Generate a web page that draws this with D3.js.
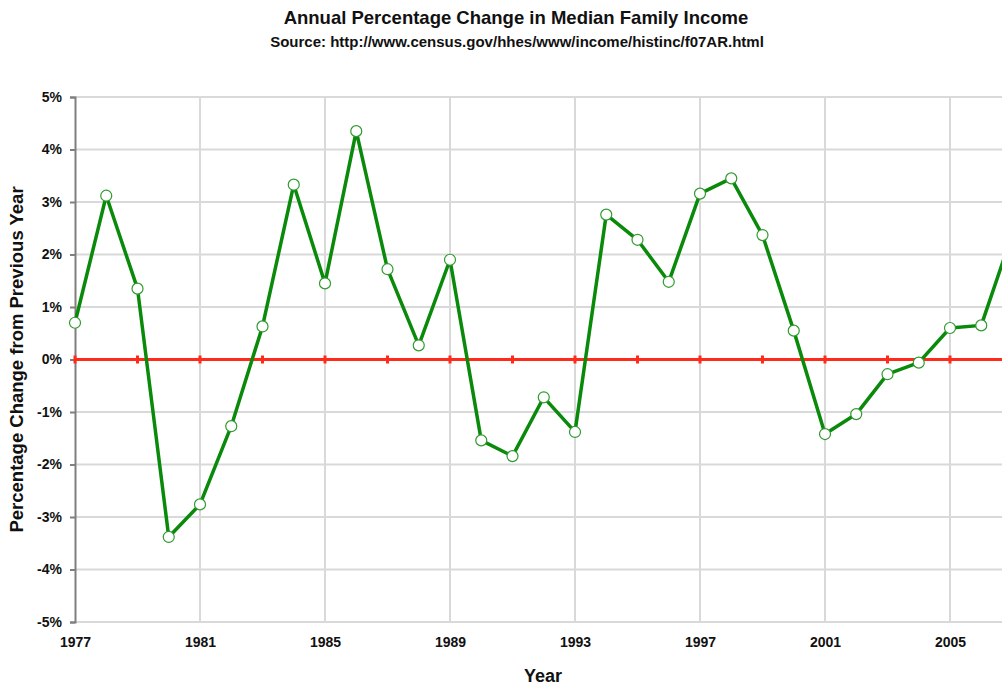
<!DOCTYPE html>
<html>
<head>
  <meta charset="utf-8">
  <title>median family income</title>
  <style>
    body { margin: 0; background: #fff; }
    svg text { font-family: "Liberation Sans", Arial, sans-serif; font-weight: bold; fill: #111; }
  </style>
</head>
<body>
  <svg width="1002" height="685" class="chart"></svg>

  <script src="https://d3js.org/d3.v7.min.js"></script>
  <script type="text/javascript">

  // values (percent change from previous year)
  var years = [1977, 1978, 1979, 1980, 1981, 1982, 1983, 1984, 1985, 1986,
               1987, 1988, 1989, 1990, 1991, 1992, 1993, 1994, 1995, 1996,
               1997, 1998, 1999, 2000, 2001, 2002, 2003, 2004, 2005, 2006, 2007];
  var change = [0.70, 3.12, 1.35, -3.38, -2.76, -1.27, 0.63, 3.33, 1.45, 4.35,
                1.72, 0.27, 1.90, -1.54, -1.84, -0.72, -1.38, 2.76, 2.28, 1.48,
                3.16, 3.45, 2.37, 0.55, -1.42, -1.04, -0.28, -0.06, 0.60, 0.65, 2.4];
  var yTicks = [-5, -4, -3, -2, -1, 0, 1, 2, 3, 4, 5];
  var xLabels = [1977, 1981, 1985, 1989, 1993, 1997, 2001, 2005];
  var zeroTicks = [1977, 1979, 1981, 1983, 1985, 1987, 1989, 1991, 1993, 1995, 1997, 1999, 2001, 2003, 2005, 2007];

  var svg = d3.select(".chart");
  var plotLeft = 75, plotTop = 97, plotBottom = 622;

  var x = d3.scaleLinear().domain([1977, 2007]).range([plotLeft, plotLeft + 30 * 31.25]);
  var y = d3.scaleLinear().domain([-5, 5]).range([plotBottom, plotTop]);

  // horizontal grid
  svg.append("g").selectAll("line")
    .data(yTicks)
    .enter().append("line")
    .attr("x1", plotLeft).attr("x2", 1002)
    .attr("y1", function(d) { return y(d); })
    .attr("y2", function(d) { return y(d); })
    .style("stroke", "#d9d9d9").style("stroke-width", 2);

  // vertical grid
  svg.append("g").selectAll("line")
    .data(xLabels.slice(1))
    .enter().append("line")
    .attr("x1", function(d) { return x(d); })
    .attr("x2", function(d) { return x(d); })
    .attr("y1", plotTop).attr("y2", plotBottom)
    .style("stroke", "#d9d9d9").style("stroke-width", 2);

  // y axis
  var yAxis = svg.append("g")
    .attr("transform", "translate(" + plotLeft + ",0)")
    .call(d3.axisLeft(y).tickValues(yTicks).tickSize(5).tickPadding(8)
      .tickFormat(function(d) { return d + "%"; }));
  yAxis.select(".domain").style("stroke", "#7f7f7f").style("stroke-width", 2);
  yAxis.selectAll(".tick line").style("stroke", "#7f7f7f").style("stroke-width", 2);
  yAxis.selectAll("text").style("font-size", "14px").style("font-family", "Liberation Sans, Arial, sans-serif").style("font-weight", "bold").attr("fill", "#111");

  // x axis labels
  var xAxis = svg.append("g")
    .attr("transform", "translate(0," + plotBottom + ")")
    .call(d3.axisBottom(x).tickValues(xLabels).tickSize(0).tickPadding(15)
      .tickFormat(d3.format("d")));
  xAxis.select(".domain").remove();
  xAxis.selectAll("text").style("font-size", "14px").style("font-family", "Liberation Sans, Arial, sans-serif").style("font-weight", "bold").attr("fill", "#111");

  // zero line
  svg.append("line")
    .attr("x1", plotLeft).attr("x2", 1002)
    .attr("y1", y(0)).attr("y2", y(0))
    .style("stroke", "#ff2a1a").style("stroke-width", 3);
  svg.append("g").selectAll("line")
    .data(zeroTicks)
    .enter().append("line")
    .attr("x1", function(d) { return x(d); })
    .attr("x2", function(d) { return x(d); })
    .attr("y1", y(0) - 4).attr("y2", y(0) + 4)
    .style("stroke", "#ff2a1a").style("stroke-width", 3);

  // series
  var data = years.map(function(yr, i) { return { year: yr, v: change[i] }; });
  var line = d3.line()
    .x(function(d) { return x(d.year); })
    .y(function(d) { return y(d.v); });

  svg.append("path")
    .datum(data)
    .attr("d", line)
    .style("fill", "none")
    .style("stroke", "#0a8a0a")
    .style("stroke-width", 3.5)
    .style("stroke-linejoin", "round");

  svg.append("g").selectAll("circle")
    .data(data)
    .enter().append("circle")
    .attr("cx", function(d) { return x(d.year); })
    .attr("cy", function(d) { return y(d.v); })
    .attr("r", 5.5)
    .style("fill", "#fff")
    .style("stroke", "#2f9a2f")
    .style("stroke-width", 1.2);

  // titles
  svg.append("text")
    .attr("x", 516).attr("y", 24)
    .attr("text-anchor", "middle")
    .style("font-size", "18.5px")
    .text("Annual Percentage Change in Median Family Income");
  svg.append("text")
    .attr("x", 517).attr("y", 47)
    .attr("text-anchor", "middle")
    .style("font-size", "15px")
    .text("Source: http://www.census.gov/hhes/www/income/histinc/f07AR.html");

  svg.append("text")
    .attr("transform", "translate(23," + y(0) + ") rotate(-90)")
    .attr("text-anchor", "middle")
    .style("font-size", "18.5px")
    .text("Percentage Change from Previous Year");

  svg.append("text")
    .attr("x", 543).attr("y", 682)
    .attr("text-anchor", "middle")
    .style("font-size", "18px")
    .text("Year");

  </script>
</body>
</html>
